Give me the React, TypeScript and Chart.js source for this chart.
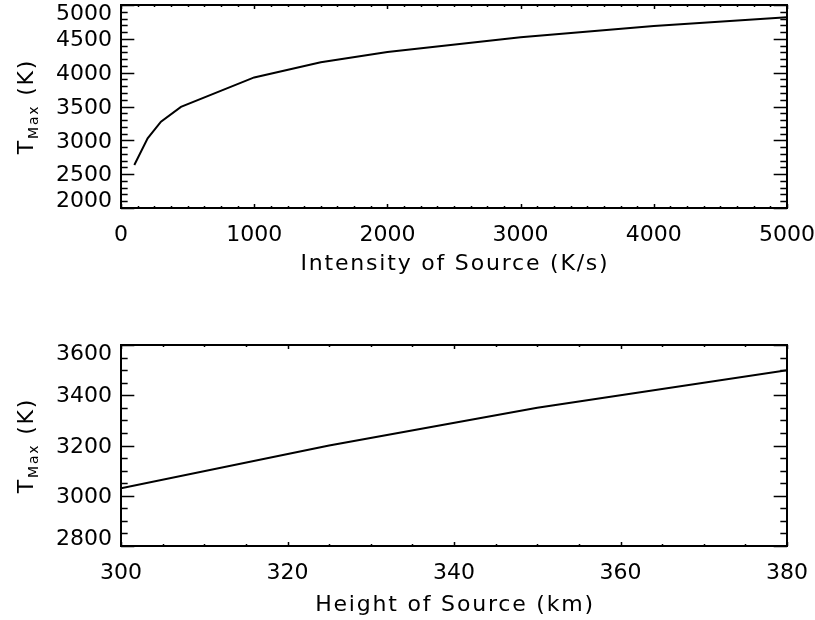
import React, { useEffect, useRef } from "react";
import { Chart, registerables } from "chart.js";

Chart.register(...registerables);

// ---- data ----
const intensityValues = [100, 200, 300, 450, 1000, 1500, 2000, 3000, 4000, 5000];
const tmaxByIntensity = [2635, 3030, 3275, 3495, 3930, 4155, 4305, 4525, 4690, 4820];

const heightValues = [300, 325, 350, 380];
const tmaxByHeight = [3030, 3200, 3350, 3500];

const topXTitle = "Intensity of Source (K/s)";
const bottomXTitle = "Height of Source (km)";
const yTitleMain = "T";
const yTitleSub = "Max";
const yTitleUnit = " (K)";

const FONT = '"DejaVu Sans", sans-serif';
const TITLE_SPACING = "1.8px";

type PanelCfg = {
  xs: number[];
  ys: number[];
  xTitle: string;
  xMin: number;
  xMax: number;
  xStep: number;
  xMinor: number;
  yMin: number;
  yMax: number;
  yStep: number;
  yMinor: number;
  padTop: number;
  areaBottom: number;
  titleY: number;
};

const topPanel: PanelCfg = {
  xs: intensityValues,
  ys: tmaxByIntensity,
  xTitle: topXTitle,
  xMin: 0,
  xMax: 5000,
  xStep: 1000,
  xMinor: 125,
  yMin: 2000,
  yMax: 5000,
  yStep: 500,
  yMinor: 100,
  padTop: 5,
  areaBottom: 208,
  titleY: 264.5,
};

const bottomPanel: PanelCfg = {
  xs: heightValues,
  ys: tmaxByHeight,
  xTitle: bottomXTitle,
  xMin: 300,
  xMax: 380,
  xStep: 20,
  xMinor: 5,
  yMin: 2800,
  yMax: 3600,
  yStep: 200,
  yMinor: 50,
  padTop: 35,
  areaBottom: 236,
  titleY: 295,
};

const CANVAS_W = 815;
const CANVAS_H = 310;

function isMultiple(v: number, step: number) {
  const r = v / step;
  return Math.abs(r - Math.round(r)) < 1e-6;
}

function setSpacing(ctx: any, v: string) {
  try {
    ctx.letterSpacing = v;
  } catch (e) {}
}

function framePlugin(cfg: PanelCfg) {
  return {
    id: "idlFrame",
    afterDatasetsDraw(chart: any) {
      const ctx = chart.ctx as CanvasRenderingContext2D;
      const { left, right, top, bottom } = chart.chartArea;
      const xs = chart.scales.x;
      const ys = chart.scales.y;
      ctx.save();
      ctx.strokeStyle = "#000";
      ctx.lineWidth = 2;
      ctx.strokeRect(left, top, right - left, bottom - top);

      ctx.lineWidth = 1.5;
      ctx.beginPath();
      const xMajor = (bottom - top) * 0.02;
      const yMajor = (right - left) * 0.02;
      for (let v = cfg.xMin; v <= cfg.xMax + 1e-9; v += cfg.xMinor) {
        const len = isMultiple(v, cfg.xStep) ? xMajor : xMajor / 2;
        const px = Math.round(xs.getPixelForValue(v)) + 0.5;
        ctx.moveTo(px, bottom);
        ctx.lineTo(px, bottom - len);
        ctx.moveTo(px, top);
        ctx.lineTo(px, top + len);
      }
      for (let v = cfg.yMin; v <= cfg.yMax + 1e-9; v += cfg.yMinor) {
        const len = isMultiple(v, cfg.yStep) ? yMajor : yMajor / 2;
        const py = Math.round(ys.getPixelForValue(v)) + 0.5;
        ctx.moveTo(left, py);
        ctx.lineTo(left + len, py);
        ctx.moveTo(right, py);
        ctx.lineTo(right - len, py);
      }
      ctx.stroke();
      ctx.restore();
    },
    afterDraw(chart: any) {
      const ctx = chart.ctx as CanvasRenderingContext2D;
      const { left, right, top, bottom } = chart.chartArea;
      const ys = chart.scales.y;
      ctx.save();
      ctx.fillStyle = "#000";

      // y tick labels, kept inside the frame's height like the original
      setSpacing(ctx, "0px");
      ctx.font = `22px ${FONT}`;
      ctx.textAlign = "right";
      ctx.textBaseline = "middle";
      for (const t of ys.ticks) {
        let py = ys.getPixelForValue(t.value) + 1.5;
        py = Math.max(py, top + 9.5);
        py = Math.min(py, bottom - 6.5);
        ctx.fillText(String(t.value), left - 9, py);
      }

      // x title
      setSpacing(ctx, TITLE_SPACING);
      ctx.font = `22px ${FONT}`;
      ctx.textAlign = "center";
      ctx.textBaseline = "middle";
      ctx.fillText(cfg.xTitle, (left + right) / 2 + 1, cfg.titleY);

      // y title: T_Max (K)
      const yc = (top + bottom) / 2;
      ctx.translate(33, yc);
      ctx.rotate(-Math.PI / 2);
      ctx.textAlign = "left";
      ctx.textBaseline = "alphabetic";
      const big = `22px ${FONT}`;
      const small = `14px ${FONT}`;
      ctx.font = big;
      const w1 = ctx.measureText(yTitleMain).width;
      const w3 = ctx.measureText(yTitleUnit).width;
      ctx.font = small;
      const w2 = ctx.measureText(yTitleSub).width;
      let x0 = -(w1 + w2 + w3) / 2;
      ctx.font = big;
      ctx.fillText(yTitleMain, x0, 0);
      x0 += w1;
      ctx.font = small;
      ctx.fillText(yTitleSub, x0, 5);
      x0 += w2;
      ctx.font = big;
      ctx.fillText(yTitleUnit, x0, 0);
      ctx.restore();
    },
  };
}

function Panel({ cfg }: { cfg: PanelCfg }) {
  const ref = useRef<HTMLCanvasElement>(null);
  useEffect(() => {
    const canvas = ref.current;
    if (!canvas) return;
    const xAxisHeight = CANVAS_H - cfg.areaBottom;
    const chart = new Chart(canvas, {
      type: "line",
      data: {
        datasets: [
          {
            data: cfg.xs.map((x, i) => ({ x, y: cfg.ys[i] })),
            borderColor: "#000",
            borderWidth: 2,
            pointRadius: 0,
            tension: 0,
            fill: false,
          },
        ],
      },
      options: {
        responsive: false,
        animation: false,
        devicePixelRatio: 1,
        events: [],
        layout: { padding: { top: cfg.padTop, right: 28, left: 0, bottom: 0 } },
        plugins: { legend: { display: false }, tooltip: { enabled: false } },
        scales: {
          x: {
            type: "linear",
            min: cfg.xMin,
            max: cfg.xMax,
            grid: { display: false, drawTicks: false },
            border: { display: false },
            ticks: {
              stepSize: cfg.xStep,
              autoSkip: false,
              maxRotation: 0,
              padding: 14,
              color: "#000",
              font: { family: FONT, size: 22 },
              callback: (v: any) => String(v),
            },
            title: { display: false },
            afterFit: (s: any) => {
              s.height = xAxisHeight;
              s.paddingLeft = 0;
              s.paddingRight = 0;
            },
          },
          y: {
            type: "linear",
            min: cfg.yMin,
            max: cfg.yMax,
            grid: { display: false, drawTicks: false },
            border: { display: false },
            ticks: { display: false, stepSize: cfg.yStep },
            afterFit: (s: any) => {
              s.width = 121;
              s.paddingTop = 0;
              s.paddingBottom = 0;
            },
          },
        },
      } as any,
      plugins: [framePlugin(cfg)],
    });
    return () => chart.destroy();
  }, [cfg]);
  return (
    <canvas
      ref={ref}
      width={CANVAS_W}
      height={CANVAS_H}
      style={{ display: "block", width: CANVAS_W, height: CANVAS_H }}
    />
  );
}

export default function App() {
  return (
    <div
      style={{
        position: "absolute",
        left: 0,
        top: 0,
        width: CANVAS_W,
        height: CANVAS_H * 2,
        background: "#fff",
      }}
    >
      <Panel cfg={topPanel} />
      <Panel cfg={bottomPanel} />
    </div>
  );
}
